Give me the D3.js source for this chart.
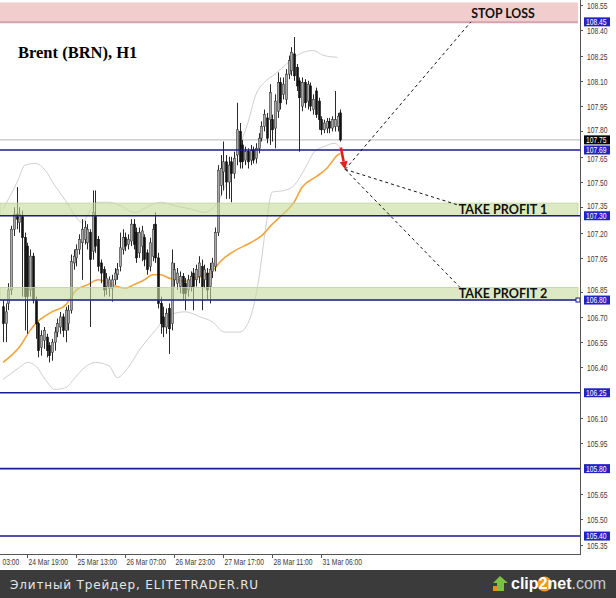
<!DOCTYPE html>
<html><head><meta charset="utf-8">
<script src="https://cdn.jsdelivr.net/npm/d3@7"></script>
<style>
html,body{margin:0;padding:0;background:#fff;}
svg{display:block;}
</style></head>
<body>
<svg id="chart" width="616" height="598"></svg>
<script>
// ---------- DATA ----------
const candleO = [106.76,106.66,106.78,106.86,107.22,107.31,107.26,107.30,107.17,107.12,106.86,107.06,106.80,106.66,106.52,106.56,106.58,106.53,106.49,106.55,106.61,106.64,106.70,106.62,106.66,106.74,107.02,107.05,107.10,107.14,107.16,107.14,107.20,107.09,107.30,107.16,107.02,106.98,106.88,106.87,106.87,106.92,106.95,107.00,107.10,107.17,107.13,107.15,107.25,107.20,107.08,107.12,107.17,107.08,107.00,107.06,107.25,107.05,106.78,106.70,106.64,106.75,106.66,106.92,106.90,106.88,106.94,106.90,106.86,106.88,106.96,106.92,106.94,107.00,106.92,106.96,106.88,106.97,107.00,107.20,107.48,107.56,107.62,107.50,107.62,107.55,107.66,107.80,107.72,107.63,107.68,107.63,107.69,107.64,107.70,107.76,107.83,107.88,107.87,107.87,107.82,107.92,108.09,108.02,107.99,108.14,108.16,108.26,108.18,108.10,107.95,108.09,107.98,108.07,107.93,108.04,107.98,107.87,107.81,107.82,107.86,107.82,107.83,107.83,107.91];
const candleH = [106.80,106.78,106.90,107.24,107.35,107.47,107.35,107.33,107.20,107.14,107.10,107.08,106.82,106.67,106.62,106.64,106.60,106.55,106.57,106.64,106.69,106.73,106.72,106.76,106.77,107.07,107.10,107.13,107.19,107.28,107.27,107.25,107.22,107.45,107.45,107.18,107.04,107.00,106.96,106.94,106.95,106.99,107.02,107.20,107.22,107.20,107.19,107.28,107.28,107.23,107.23,107.24,107.19,107.10,107.17,107.25,107.32,107.08,106.82,106.76,106.75,106.78,107.10,107.02,106.99,106.97,106.96,106.93,106.95,106.97,106.99,107.01,107.06,107.04,107.01,106.99,107.02,107.05,107.23,107.60,107.66,107.74,107.66,107.65,107.65,107.68,107.97,107.85,107.75,107.71,107.70,107.72,107.71,107.73,107.79,107.86,107.93,107.91,108.08,107.90,108.02,108.15,108.12,108.12,108.17,108.25,108.30,108.36,108.20,108.12,108.12,108.11,108.10,108.09,108.02,108.06,108.00,107.89,107.87,107.88,107.88,107.89,108.04,107.91,107.93];
const candleL = [106.55,106.55,106.74,106.83,107.18,107.22,107.20,106.82,106.62,106.60,106.82,106.78,106.57,106.46,106.47,106.51,106.46,106.43,106.44,106.50,106.58,106.60,106.58,106.55,106.62,106.72,106.98,107.00,107.07,106.92,107.13,107.10,106.64,107.04,107.08,106.97,106.90,106.82,106.83,106.82,106.79,106.89,106.92,106.97,107.07,107.09,107.10,107.12,107.10,107.02,107.05,107.03,107.00,106.95,106.97,107.03,107.02,106.75,106.60,106.58,106.60,106.48,106.62,106.88,106.86,106.84,106.80,106.74,106.82,106.85,106.74,106.88,106.90,106.74,106.87,106.80,106.78,106.93,106.97,107.18,107.42,107.45,107.40,107.40,107.38,107.52,107.60,107.58,107.58,107.60,107.58,107.60,107.61,107.61,107.67,107.74,107.80,107.73,107.72,107.74,107.70,107.88,107.93,107.99,107.96,108.11,108.13,108.10,108.04,107.68,107.92,107.94,107.93,107.92,107.90,107.88,107.81,107.78,107.79,107.79,107.79,107.80,107.80,107.80,107.74];
const candleC = [106.66,106.73,106.86,107.22,107.31,107.28,107.31,107.17,106.82,106.82,107.06,106.80,106.66,106.50,106.59,106.62,106.50,106.47,106.55,106.61,106.66,106.70,106.62,106.74,106.74,107.03,107.06,107.10,107.16,107.22,107.23,107.22,107.04,107.32,107.12,107.00,106.96,106.86,106.93,106.92,106.92,106.96,106.98,107.11,107.17,107.12,107.16,107.25,107.13,107.05,107.20,107.21,107.04,106.98,107.14,107.22,107.05,106.78,106.66,106.64,106.72,106.63,107.02,106.98,106.96,106.94,106.84,106.84,106.92,106.94,106.88,106.98,107.02,106.88,106.98,106.86,106.98,107.02,107.20,107.57,107.58,107.62,107.50,107.60,107.55,107.64,107.81,107.62,107.62,107.68,107.62,107.69,107.63,107.70,107.76,107.83,107.90,107.76,108.03,107.81,107.98,108.09,107.97,108.08,108.14,108.22,108.27,108.13,108.07,108.00,108.09,107.97,108.08,107.95,107.99,107.90,107.87,107.81,107.85,107.86,107.82,107.87,107.87,107.89,107.75];

// moving average (bar index, price)
const maIdx = [0,3,6,10,12,15,18,23,27,31,35,39,42,45,48,52,55,58,61,64,67,70,73,76,78,80,85,91,95,99,103,107,110,115,119,123,124];
const maVal = [106.43,106.47,106.52,106.62,106.66,106.70,106.73,106.77,106.86,106.89,106.92,106.90,106.88,106.87,106.89,106.92,106.95,106.95,106.93,106.92,106.91,106.93,106.94,106.96,106.99,107.03,107.09,107.14,107.18,107.25,107.31,107.38,107.47,107.53,107.58,107.66,107.67];

// Bollinger bands (bar index, price)
const bbUpIdx = [0,5.5,8,12,15.5,19,23,26.5,29,32,34,39,43,48.5,54,58,63,69,74,78,81.5,85,90,93,96,100,105,109,114,118,123];
const bbUpVal = [107.34,107.51,107.60,107.61,107.57,107.48,107.39,107.30,107.26,107.33,107.38,107.38,107.36,107.32,107.36,107.38,107.36,107.34,107.32,107.36,107.47,107.63,107.85,108.02,108.09,108.14,108.21,108.26,108.28,108.25,108.24];
const bbLoIdx = [0,2.6,6,9,12,15.5,19,23,26.5,30,34,39,42,46,50,56,61,67,72.5,77,81.5,87,91,94,96.5,99,103.5,107,111,114.5,118,122,124];
const bbLoVal = [106.33,106.36,106.40,106.43,106.41,106.33,106.27,106.28,106.34,106.40,106.43,106.41,106.34,106.40,106.50,106.62,106.71,106.73,106.70,106.67,106.61,106.61,106.70,106.92,107.22,107.44,107.45,107.48,107.58,107.68,107.71,107.73,107.70];

// levels
const bluePrices = [107.69, 107.30, 106.80, 106.25, 105.80, 105.40];
const bidPrice = 107.75;
const stopZone = [108.45, 108.565];
const tp1Zone = [107.30, 107.375];
const tp2Zone = [106.80, 106.875];
const zoneLabels = ["STOP LOSS", "TAKE PROFIT 1", "TAKE PROFIT 2"];

// axis ticks
const yTicks = [108.55,108.40,108.25,108.10,107.95,107.80,107.65,107.50,107.35,107.20,107.05,106.85,106.70,106.55,106.40,106.10,105.95,105.65,105.50,105.35];
const blueLabels = [108.45, 107.69, 107.30, 106.80, 106.25, 105.80, 105.40];
const xTickIdx = [-0.6, 9, 27, 45, 63, 81, 99, 117];
const xTickLabels = ["03:00","24 Mar 19:00","25 Mar 13:00","26 Mar 07:00","26 Mar 23:00","27 Mar 17:00","28 Mar 11:00","31 Mar 06:00"];

// annotation anchors (bar index, price)
const arrowFrom = [124.2, 107.705];
const arrowTo = [125.8, 107.575];
const targetIdx = [172, 168, 168];
const targetPrice = [108.45, 107.36, 106.875];

// ---------- DRAW ----------
const W = 616, H = 598;
const plotR = 580, plotB = 554;
const svg = d3.select("#chart");
svg.append("rect").attr("width", W).attr("height", H).attr("fill", "#fff");

const x = d3.scaleLinear().domain([0, 124]).range([3, 340.3]);
const y = d3.scaleLinear().domain([105.35, 108.55]).range([544.5, 5]);

const plot = svg.append("g");
const candles = candleO.map((o, i) => ({i, o, h: candleH[i], l: candleL[i], c: candleC[i]}));

// bid line
plot.append("line").attr("x1", 0).attr("x2", plotR).attr("y1", y(bidPrice)).attr("y2", y(bidPrice))
  .attr("stroke", "#c4c4c4").attr("stroke-width", 1.2);

// Bollinger bands
const curve = d3.line().curve(d3.curveMonotoneX);
plot.append("path").attr("d", curve(bbUpIdx.map((d, k) => [x(d), y(bbUpVal[k])])))
  .attr("fill", "none").attr("stroke", "#cfcfcf").attr("stroke-width", 1);
plot.append("path").attr("d", curve(bbLoIdx.map((d, k) => [x(d), y(bbLoVal[k])])))
  .attr("fill", "none").attr("stroke", "#cfcfcf").attr("stroke-width", 1);

// MA
plot.append("path").attr("d", curve(maIdx.map((d, k) => [x(d), y(maVal[k])])))
  .attr("fill", "none").attr("stroke", "#f0a43a").attr("stroke-width", 1.6);

// candles
const cg = plot.append("g");
cg.selectAll("line.wick").data(candles).join("line").attr("class", "wick")
  .attr("x1", d => Math.round(x(d.i)) + 0.5).attr("x2", d => Math.round(x(d.i)) + 0.5)
  .attr("y1", d => y(d.h)).attr("y2", d => y(d.l))
  .attr("stroke", "#2a2a2a").attr("stroke-width", 1);
cg.selectAll("rect.body").data(candles).join("rect").attr("class", "body")
  .attr("x", d => Math.round(x(d.i)) - 0.5)
  .attr("width", 2)
  .attr("y", d => y(Math.max(d.o, d.c)))
  .attr("height", d => Math.max(1, Math.abs(y(d.o) - y(d.c))))
  .attr("fill", d => d.c >= d.o ? "#a8a8a8" : "#111")
  .attr("stroke", d => d.c >= d.o ? "#3a3a3a" : "#111")
  .attr("stroke-width", 0.6);

// zones (drawn over candles, semi-transparent)
function zone(z, fill, stroke) {
  plot.append("rect").attr("x", 0).attr("width", plotR - 2)
    .attr("y", y(z[1])).attr("height", y(z[0]) - y(z[1]))
    .attr("fill", fill).attr("fill-opacity", 0.6)
    .attr("stroke", stroke).attr("stroke-width", 0.8);
}
zone(tp1Zone, "#c6da9f", "#bfd49a");
zone(tp2Zone, "#c6da9f", "#bfd49a");
plot.append("rect").attr("x", 0).attr("width", plotR - 2)
  .attr("y", y(stopZone[1])).attr("height", y(stopZone[0]) - y(stopZone[1]))
  .attr("fill", "#f1cdcd");
plot.append("line").attr("x1", 0).attr("x2", plotR - 2).attr("y1", y(stopZone[0]) + 0.5).attr("y2", y(stopZone[0]) + 0.5)
  .attr("stroke", "#d3a3ae").attr("stroke-width", 2);

// blue levels
plot.selectAll("line.lvl").data(bluePrices).join("line").attr("class", "lvl")
  .attr("x1", 0).attr("x2", plotR).attr("y1", d => y(d)).attr("y2", d => y(d))
  .attr("stroke", "#1b1b95").attr("stroke-width", 1.6);
plot.append("rect").attr("x", plotR - 4).attr("y", y(106.80) - 2).attr("width", 4).attr("height", 4)
  .attr("fill", "#fff").attr("stroke", "#1b1b95").attr("stroke-width", 1);

// dashed annotation lines
const tip = [x(arrowTo[0]), y(arrowTo[1])];
targetIdx.forEach((ti, k) => {
  plot.append("line").attr("x1", tip[0]).attr("y1", tip[1])
    .attr("x2", x(ti)).attr("y2", y(targetPrice[k]))
    .attr("stroke", "#111").attr("stroke-width", 1).attr("stroke-dasharray", "3,3");
});

// red arrow
(function(){
  const x0 = x(arrowFrom[0]), y0 = y(arrowFrom[1]);
  const x1 = tip[0], y1 = tip[1];
  const ang = Math.atan2(y1 - y0, x1 - x0);
  const hl = 8, hw = 4;
  const bx = x1 - hl * Math.cos(ang), by = y1 - hl * Math.sin(ang);
  plot.append("line").attr("x1", x0).attr("y1", y0).attr("x2", bx).attr("y2", by)
    .attr("stroke", "#e3201b").attr("stroke-width", 2.6);
  const px = -Math.sin(ang), py = Math.cos(ang);
  plot.append("polygon").attr("points",
    [[x1, y1], [bx + px * hw, by + py * hw], [bx - px * hw, by - py * hw]].map(p => p.join(",")).join(" "))
    .attr("fill", "#e3201b");
})();

// zone labels
const zoneBase = [y(stopZone[0]) - 4, y(tp1Zone[0]) - 2, y(tp2Zone[0]) - 2];
zoneLabels.forEach((t, k) => {
  plot.append("text").attr("x", 503).attr("y", zoneBase[k]).attr("text-anchor", "middle")
    .attr("font-family", "Lato, 'Open Sans', sans-serif").attr("font-weight", "bold")
    .attr("font-size", k === 0 ? 12.3 : 12.6).attr("fill", "#111").text(t);
});

// title
svg.append("text").attr("x", 18).attr("y", 58).attr("font-family", "'Liberation Serif', 'DejaVu Serif', serif")
  .attr("font-weight", "bold").attr("font-size", 16.5).attr("fill", "#000").text("Brent (BRN), H1");

// axes lines
svg.append("line").attr("x1", plotR + 0.5).attr("x2", plotR + 0.5).attr("y1", 0).attr("y2", plotB)
  .attr("stroke", "#555").attr("stroke-width", 1);
svg.append("line").attr("x1", 0).attr("x2", plotR + 1).attr("y1", plotB + 0.5).attr("y2", plotB + 0.5)
  .attr("stroke", "#555").attr("stroke-width", 1);

// narrow axis text helper (condensed horizontally)
const axFont = "'Liberation Sans', Arial, sans-serif";
function narrow(g, tx, ty, str, fill) {
  return g.append("text").attr("transform", `translate(${tx},${ty}) scale(0.8,1)`)
    .attr("dy", "0.35em").attr("font-family", axFont).attr("font-size", 8.4)
    .attr("fill", fill).text(str);
}
// y ticks (labels nudged away from highlighted price tags)
const tagYs = blueLabels.concat([bidPrice]).map(v => y(v));
const yax = svg.append("g");
yax.selectAll("line").data(yTicks).join("line")
  .attr("x1", plotR).attr("x2", plotR + 3).attr("y1", d => Math.round(y(d)) + 0.5).attr("y2", d => Math.round(y(d)) + 0.5)
  .attr("stroke", "#555");
yTicks.forEach(v => {
  let ty = y(v) + 1;
  tagYs.forEach(tg => {
    const d = ty - tg;
    if (Math.abs(d) < 9.5) ty = tg + (d < 0 ? -9.5 : 9.5);
  });
  narrow(yax, 587, ty, v.toFixed(2), "#3a3a3a");
});

// highlighted labels
function tag(v, bg) {
  const g = svg.append("g");
  g.append("rect").attr("x", 584).attr("y", y(v) - 4.5).attr("width", 26).attr("height", 9).attr("fill", bg);
  narrow(g, 586, y(v), v.toFixed(2), "#fff");
}
blueLabels.forEach(v => tag(v, "#2323c4"));
tag(bidPrice, "#000");

// x ticks
const xax = svg.append("g");
xTickIdx.forEach((ti, k) => {
  const xx = Math.round(x(ti)) + 0.5;
  if (k > 0) xax.append("line").attr("x1", xx).attr("x2", xx).attr("y1", plotB).attr("y2", plotB + 4).attr("stroke", "#555");
  narrow(xax, xx + 1, 562, xTickLabels[k], "#3a3a3a");
});

// bottom bar
svg.append("rect").attr("x", 0).attr("y", 570).attr("width", W).attr("height", 28).attr("fill", "#3b3b3b");
svg.append("text").attr("x", 10).attr("y", 589).attr("font-family", "'DejaVu Sans', sans-serif")
  .attr("font-size", 12).attr("letter-spacing", 0.85).attr("fill", "#e6e6e6").text("Элитный Трейдер, ELITETRADER.RU");

// clip2net logo
const lg = svg.append("g");
lg.append("rect").attr("x", 493).attr("y", 586).attr("width", 11).attr("height", 5).attr("fill", "#f08a1c");
lg.append("polygon").attr("points", "500,576 508,583 504,583 504,591 497,591 497,583 493,583").attr("fill", "#7cc242");
lg.append("circle").attr("cx", 544.5).attr("cy", 584).attr("r", 7.5).attr("fill", "#f39a1e");
const lt = lg.append("text").attr("x", 511).attr("y", 589).attr("font-family", "'Liberation Sans', Arial, sans-serif")
  .attr("font-size", 16).attr("fill", "#fff");
lt.append("tspan").attr("font-weight", "bold").text("clip");
lt.append("tspan").attr("font-weight", "bold").text("2");
lt.append("tspan").attr("font-weight", "bold").text("net");
lt.append("tspan").attr("fill", "#c8c8c8").text(".com");
</script>
</body></html>
